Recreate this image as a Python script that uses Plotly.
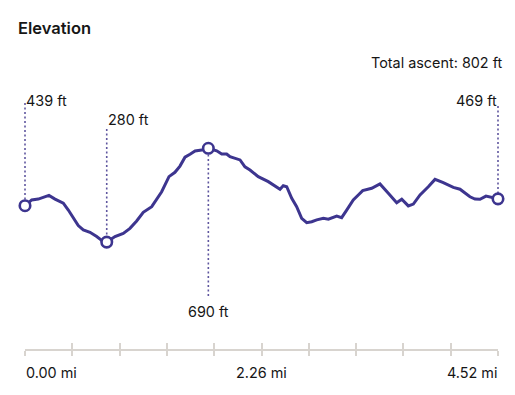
import plotly.graph_objects as go

# ---- data ----
distance_mi = [0.000, 0.064, 0.127, 0.175, 0.229, 0.287, 0.366, 0.414, 0.462, 0.509,
               0.557, 0.621, 0.685, 0.739, 0.781, 0.860, 0.939, 1.003, 1.067, 1.130,
               1.211, 1.306, 1.376, 1.433, 1.481, 1.529, 1.577, 1.625, 1.689, 1.752,
               1.832, 1.880, 1.927, 1.959, 2.055, 2.102, 2.150, 2.229, 2.325, 2.405,
               2.437, 2.468, 2.501, 2.549, 2.596, 2.644, 2.692, 2.740, 2.788, 2.851,
               2.899, 2.979, 3.026, 3.074, 3.137, 3.185, 3.227, 3.313, 3.392, 3.472,
               3.552, 3.600, 3.663, 3.711, 3.775, 3.854, 3.918, 3.997, 4.093, 4.157,
               4.252, 4.300, 4.348, 4.405, 4.460, 4.520]
elevation_ft = [439, 464, 468, 474, 484, 468, 450, 420, 384, 352,
                333, 323, 304, 285, 280, 304, 318, 340, 372, 410,
                435, 500, 566, 585, 612, 651, 664, 678, 682, 690,
                679, 665, 665, 653, 639, 609, 595, 566, 544, 522,
                511, 526, 522, 471, 435, 384, 365, 369, 377, 384,
                380, 394, 387, 420, 464, 486, 505, 515, 534, 493,
                452, 467, 438, 446, 486, 522, 554, 540, 519, 511,
                478, 468, 467, 481, 476, 469]

marker_dist = [0.000, 0.781, 1.752, 4.520]
marker_elev = [439, 280, 690, 469]
marker_labels = ["439 ft", "280 ft", "690 ft", "469 ft"]

tick_vals = [0.0, 0.452, 0.904, 1.356, 1.808, 2.26, 2.712, 3.164, 3.616, 4.068, 4.52]
label_vals = [0.0, 2.26, 4.52]
label_text = ["0.00 mi", "2.26 mi", "4.52 mi"]

title_text = "Elevation"
ascent_text = "Total ascent: 802 ft"

# ---- styling / layout ----
OFF = 8                      # page body margin
W, H = 515 - 2 * OFF, 395 - 2 * OFF
ML = 25 - OFF
MR = W - (498 - OFF)
MT = 80 - OFF
MB = H - (349 - OFF)
PH = H - MT - MB
PW = W - ML - MR
XMAX = 4.52
Y0, Y1 = -187.2, 988.3
LINE = "#3d358f"
DOT = "#5f569f"
AXIS = "#d8d4cf"
TXT = "#161616"
FONT = "Inter"
FS = 14.4


def pfrac(py):
    return (H - MB - (py - OFF)) / PH


def py_to_y(py):
    return Y0 + pfrac(py) * (Y1 - Y0)


fig = go.Figure()
fig.add_trace(go.Scatter(x=distance_mi, y=elevation_ft, mode="lines",
                         line=dict(color=LINE, width=3), hoverinfo="skip",
                         cliponaxis=False))
fig.add_trace(go.Scatter(x=marker_dist, y=marker_elev, mode="markers",
                         marker=dict(size=10.5, color="white",
                                     line=dict(color=LINE, width=2.6)),
                         hoverinfo="skip", cliponaxis=False))
# helper trace for the inner tick axis
fig.add_trace(go.Scatter(x=tick_vals, y=[None] * len(tick_vals), xaxis="x2",
                         mode="markers", marker=dict(opacity=0), hoverinfo="skip"))

# dotted leader lines (pixel top/bottom ends); x in paper units so edge lines are not clipped
leader_px = [(103, 205.7), (129, 242), (296, 148), (106, 198)]
for (d, e, (pa, pb)) in zip(marker_dist, marker_elev, leader_px):
    fig.add_shape(type="line", xref="paper", yref="y", x0=d / XMAX, x1=d / XMAX,
                  y0=py_to_y(pa), y1=e, layer="below",
                  line=dict(color=DOT, width=1.6, dash="2px,2.5px"))

ann = []
# point labels
lab_pos = [(100, "left", -1), (119.5, "left", -1), (311.5, "center", 0), (100, "right", 1)]
for d, t, (py, xa, xs) in zip(marker_dist, marker_labels, lab_pos):
    ann.append(dict(x=d, xref="x", y=pfrac(py), yref="paper", text=t,
                    xanchor=xa, yanchor="middle", showarrow=False, xshift=xs,
                    font=dict(size=FS, color=TXT, family=FONT)))
# tick labels
for v, t, xa, xs in zip(label_vals, label_text, ["left", "center", "right"], [-1, 0, 1]):
    ann.append(dict(x=v, xref="x", y=pfrac(372.5), yref="paper", text=t,
                    xanchor=xa, yanchor="middle", showarrow=False, xshift=xs,
                    font=dict(size=FS, color=TXT, family=FONT)))
# ascent
ann.append(dict(x=(505 - OFF - ML) / PW, xref="paper", y=pfrac(62.5), yref="paper",
                text=ascent_text, xanchor="right", yanchor="middle", showarrow=False,
                font=dict(size=FS, color=TXT, family=FONT)))

fig.update_layout(
    width=W, height=H,
    margin=dict(l=ML, r=MR, t=MT, b=MB, pad=0),
    paper_bgcolor="white", plot_bgcolor="white",
    showlegend=False,
    title=dict(text=title_text, x=(18 - OFF) / W, xref="container", xanchor="left",
               y=1 - (28 - OFF) / H, yref="container", yanchor="middle",
               font=dict(size=16.5, color=TXT, family=FONT, weight=600)),
    xaxis=dict(range=[0, XMAX], showgrid=False, zeroline=False,
               showline=True, linecolor=AXIS, linewidth=1.5,
               ticks="outside", ticklen=5, tickwidth=1.5, tickcolor=AXIS,
               tickvals=tick_vals, showticklabels=False, fixedrange=True),
    xaxis2=dict(range=[0, XMAX], overlaying="x", anchor="y", side="bottom",
                showgrid=False, zeroline=False, showline=False,
                ticks="inside", ticklen=6, tickwidth=1.5, tickcolor=AXIS,
                tickvals=tick_vals, showticklabels=False, fixedrange=True),
    yaxis=dict(range=[Y0, Y1], visible=False, showgrid=False, fixedrange=True),
    annotations=ann,
)

fig.write_html("out.html", config={"displayModeBar": False})
